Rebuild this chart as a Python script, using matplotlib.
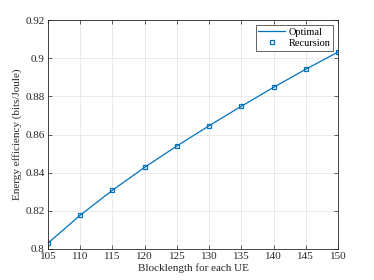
import matplotlib
matplotlib.use('Agg')
import matplotlib.pyplot as plt

blocklength = [105, 110, 115, 120, 125, 130, 135, 140, 145, 150]
optimal = [0.8031, 0.8177, 0.8308, 0.8428, 0.8540, 0.8646, 0.8748, 0.8847, 0.8942, 0.9032]
recursion = [0.8031, 0.8177, 0.8308, 0.8428, 0.8540, 0.8646, 0.8748, 0.8847, 0.8942, 0.9032]

plt.rcParams['font.family'] = ['Liberation Serif', 'DejaVu Serif']
plt.rcParams['font.size'] = 8

fig = plt.figure(figsize=(3.74, 2.80), dpi=100)
ax = fig.add_axes([48 / 374, 1 - 249 / 280, 290 / 374, 229 / 280])

blue = '#0072BD'
ax.plot(blocklength, optimal, color=blue, linewidth=0.9, label='Optimal')
ax.plot(blocklength, recursion, linestyle='none', marker='s', markersize=3.2,
        markerfacecolor='none', markeredgecolor=blue, markeredgewidth=0.9, label='Recursion')

ax.set_xlim(105, 150)
ax.set_ylim(0.8, 0.92)
ax.set_xticks(range(105, 151, 5))
ax.set_yticks([0.8, 0.82, 0.84, 0.86, 0.88, 0.9, 0.92])
ax.set_yticklabels(['0.8', '0.82', '0.84', '0.86', '0.88', '0.9', '0.92'])
ax.grid(True, color='#e6e6e6', linewidth=0.6)
ax.set_axisbelow(True)
ax.tick_params(direction='in', top=True, right=True, length=3, width=0.5,
               colors='#262626', labelsize=8, pad=2.5)
for s in ax.spines.values():
    s.set_linewidth(0.6)
    s.set_color('#262626')

ax.set_xlabel('Blocklength for each UE', fontsize=8, color='#262626', labelpad=1)
ax.set_ylabel('Energy efficiency (bits/Joule)', fontsize=8, color='#262626', labelpad=2)

leg = ax.legend(loc='upper right', fontsize=7.5, fancybox=False, framealpha=1,
                edgecolor='#262626', borderaxespad=0.5, handlelength=2.6,
                borderpad=0.25, labelspacing=0.15, handletextpad=0.3)
leg.get_frame().set_linewidth(0.5)

fig.savefig('out.png', dpi=100)
